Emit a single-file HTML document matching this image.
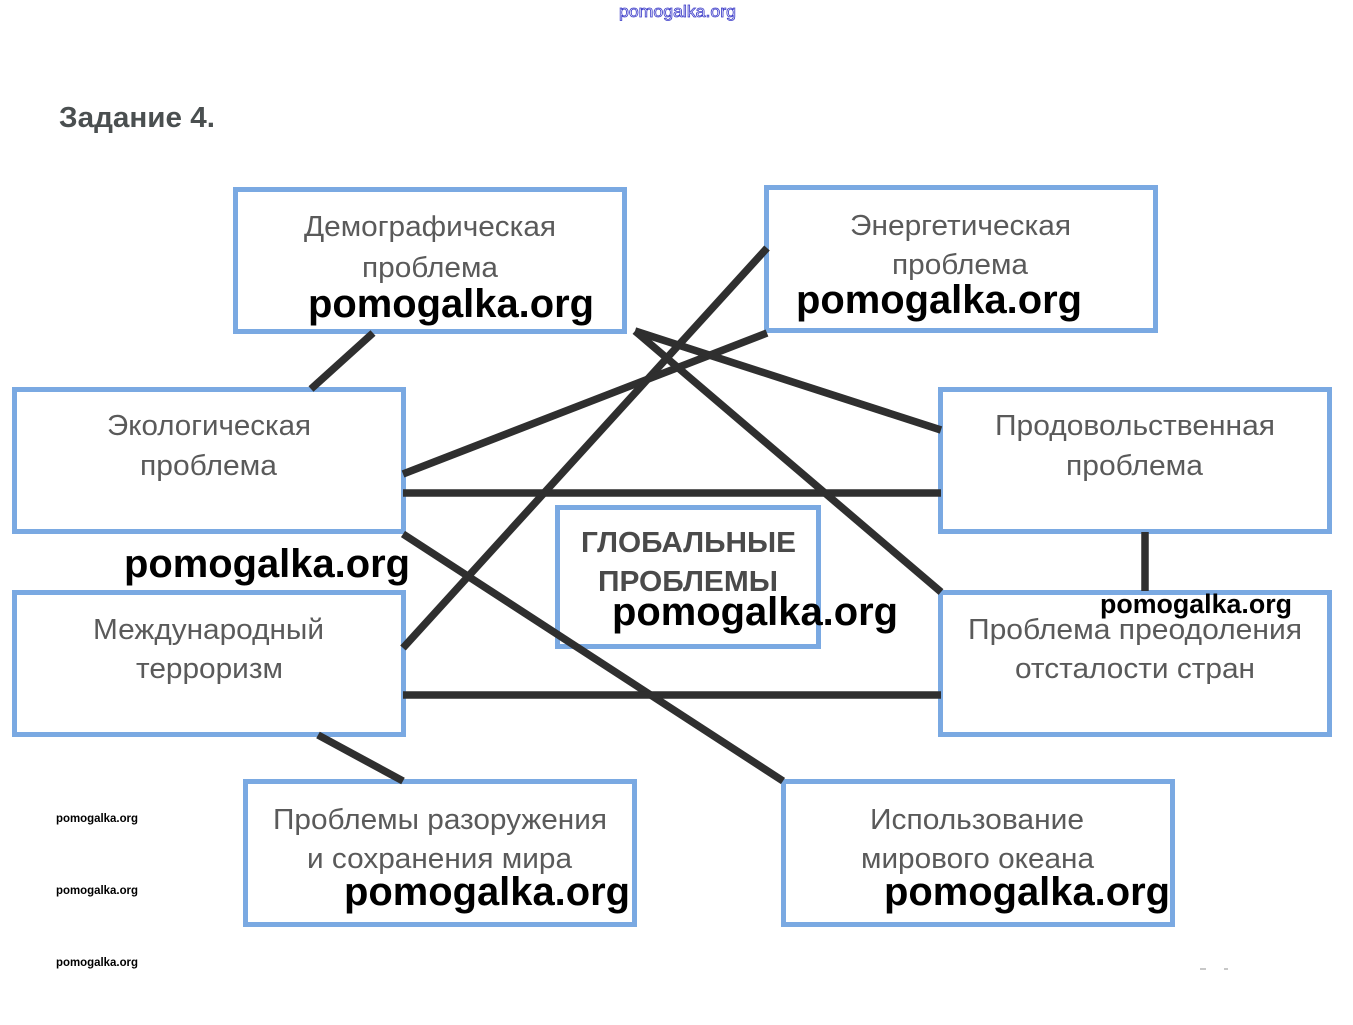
<!DOCTYPE html>
<html lang="ru">
<head>
<meta charset="utf-8">
<title>Задание 4</title>
<style>
html,body{margin:0;padding:0;background:#fff;width:1353px;height:1025px;overflow:hidden}
svg{display:block}
.b{fill:#fff;stroke:#7aa9e2;stroke-width:5}
.l{stroke:#2f2f2f;stroke-width:7.500;fill:none}
.t{font-family:"Liberation Sans",sans-serif;font-size:29px;fill:#5a5a5a;text-anchor:start}
.h{font-family:"Liberation Sans",sans-serif;font-size:29px;font-weight:bold;fill:#4a4a4a}
.w{font-family:"Liberation Sans",sans-serif;font-weight:bold;font-size:40px;fill:#000}
.s{font-family:"Liberation Sans",sans-serif;font-weight:bold;font-size:12px;fill:#000}
</style>
</head>
<body>
<svg width="1353" height="1025" viewBox="0 0 1353 1025" xmlns="http://www.w3.org/2000/svg">
<rect width="1353" height="1025" fill="#fff"/>
<text x="619" y="17" font-family="Liberation Sans,sans-serif" font-size="17" fill="#fff" stroke="#3a3ac8" stroke-width="0.8" textLength="117" lengthAdjust="spacingAndGlyphs">pomogalka.org</text>
<text x="59" y="127" font-family="Liberation Sans,sans-serif" font-size="29" font-weight="bold" fill="#4a4f50" textLength="156" lengthAdjust="spacingAndGlyphs">Задание 4.</text>

<rect class="b" x="235.500" y="189.500" width="389" height="142"/>
<rect class="b" x="766.500" y="187.500" width="389" height="143"/>
<rect class="b" x="14.500" y="389.500" width="389" height="142"/>
<rect class="b" x="940.500" y="389.500" width="389" height="142"/>
<rect class="b" x="14.500" y="592.500" width="389" height="142"/>
<rect class="b" x="940.500" y="592.500" width="389" height="142"/>
<rect class="b" x="245.500" y="781.500" width="389" height="143"/>
<rect class="b" x="783.500" y="781.500" width="389" height="143"/>
<rect class="b" x="557.500" y="507.500" width="261" height="139"/>

<line class="l" x1="373" y1="333" x2="311" y2="389"/>
<line class="l" x1="767" y1="248" x2="403" y2="648"/>
<line class="l" x1="767" y1="333" x2="403" y2="474"/>
<line class="l" x1="403" y1="493" x2="941" y2="493"/>
<line class="l" x1="635" y1="331" x2="941" y2="430"/>
<line class="l" x1="635" y1="331" x2="941" y2="592"/>
<line class="l" x1="403" y1="534" x2="783" y2="781"/>
<line class="l" x1="403" y1="695" x2="941" y2="695"/>
<line class="l" x1="318" y1="735" x2="403" y2="781"/>
<line class="l" x1="1145" y1="532" x2="1145" y2="591"/>

<text class="t" x="304" y="236" textLength="252" lengthAdjust="spacingAndGlyphs">Демографическая</text>
<text class="t" x="362" y="277" textLength="136" lengthAdjust="spacingAndGlyphs">проблема</text>
<text class="t" x="850" y="235" textLength="221" lengthAdjust="spacingAndGlyphs">Энергетическая</text>
<text class="t" x="892" y="274" textLength="136" lengthAdjust="spacingAndGlyphs">проблема</text>
<text class="t" x="107" y="435" textLength="204" lengthAdjust="spacingAndGlyphs">Экологическая</text>
<text class="t" x="140" y="475" textLength="137" lengthAdjust="spacingAndGlyphs">проблема</text>
<text class="t" x="995" y="435" textLength="280" lengthAdjust="spacingAndGlyphs">Продовольственная</text>
<text class="t" x="1066" y="475" textLength="137" lengthAdjust="spacingAndGlyphs">проблема</text>
<text class="t" x="93" y="639" textLength="231" lengthAdjust="spacingAndGlyphs">Международный</text>
<text class="t" x="136" y="678" textLength="147" lengthAdjust="spacingAndGlyphs">терроризм</text>
<text class="t" x="968" y="639" textLength="334" lengthAdjust="spacingAndGlyphs">Проблема преодоления</text>
<text class="t" x="1015" y="678" textLength="240" lengthAdjust="spacingAndGlyphs">отсталости стран</text>
<text class="t" x="273" y="829" textLength="334" lengthAdjust="spacingAndGlyphs">Проблемы разоружения</text>
<text class="t" x="307" y="868" textLength="265" lengthAdjust="spacingAndGlyphs">и сохранения мира</text>
<text class="t" x="870" y="829" textLength="214" lengthAdjust="spacingAndGlyphs">Использование</text>
<text class="t" x="861" y="868" textLength="233" lengthAdjust="spacingAndGlyphs">мирового океана</text>
<text class="h" x="581" y="552" textLength="215" lengthAdjust="spacingAndGlyphs">ГЛОБАЛЬНЫЕ</text>
<text class="h" x="598" y="591" textLength="180" lengthAdjust="spacingAndGlyphs">ПРОБЛЕМЫ</text>

<text class="w" x="308" y="317" textLength="286" lengthAdjust="spacingAndGlyphs">pomogalka.org</text>
<text class="w" x="796" y="313" textLength="286" lengthAdjust="spacingAndGlyphs">pomogalka.org</text>
<text class="w" x="124" y="577" textLength="286" lengthAdjust="spacingAndGlyphs">pomogalka.org</text>
<text class="w" x="612" y="625" textLength="286" lengthAdjust="spacingAndGlyphs">pomogalka.org</text>
<text class="w" x="344" y="905" textLength="286" lengthAdjust="spacingAndGlyphs">pomogalka.org</text>
<text class="w" x="884" y="905" textLength="286" lengthAdjust="spacingAndGlyphs">pomogalka.org</text>
<text class="w" x="1100" y="613" style="font-size:27px" textLength="192" lengthAdjust="spacingAndGlyphs">pomogalka.org</text>
<text class="s" x="56" y="822" textLength="82" lengthAdjust="spacingAndGlyphs">pomogalka.org</text>
<text class="s" x="56" y="894" textLength="82" lengthAdjust="spacingAndGlyphs">pomogalka.org</text>
<text class="s" x="56" y="966" textLength="82" lengthAdjust="spacingAndGlyphs">pomogalka.org</text>
<rect x="1200" y="968" width="6" height="2" fill="#c8c8c8"/>
<rect x="1224" y="968" width="4" height="2" fill="#c8c8c8"/>
</svg>
</body>
</html>
